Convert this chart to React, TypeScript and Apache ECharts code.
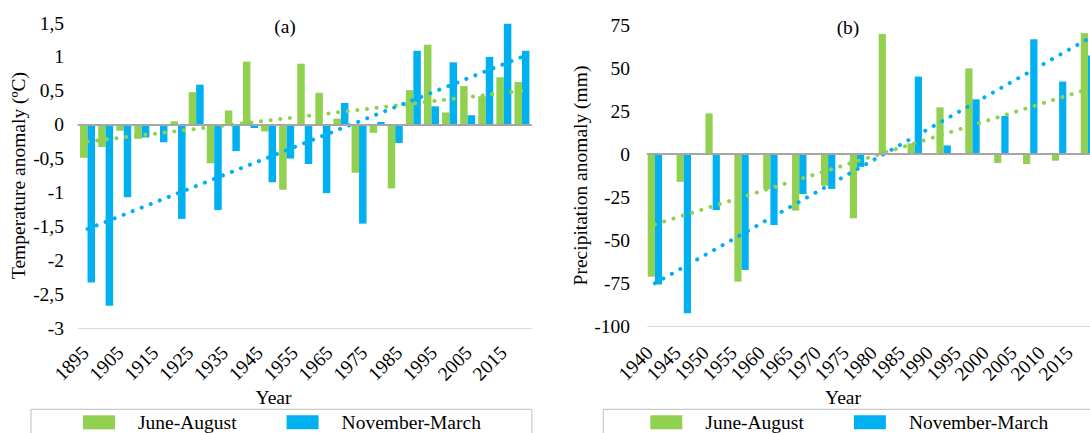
import React, { useEffect, useRef } from "react";
import * as echarts from "echarts";

const FONT = "'Liberation Serif', 'Times New Roman', Times, serif";
const FS = 19.5;
const GREEN = "#92d050";
const BLUE = "#00b0f0";
const TEXT = "#000000";

// ---------- Panel (a): temperature anomaly ----------
const tempYears = [
  "1895", "1900", "1905", "1910", "1915", "1920", "1925", "1930", "1935", "1940",
  "1945", "1950", "1955", "1960", "1965", "1970", "1975", "1980", "1985", "1990",
  "1995", "2000", "2005", "2010", "2015",
];
const tempLabelYears = [
  "1895", "1905", "1915", "1925", "1935", "1945", "1955",
  "1965", "1975", "1985", "1995", "2005", "2015",
];
const tempJuneAug = [
  -0.49, -0.33, -0.09, -0.21, -0.01, 0.05, 0.48, -0.57, 0.21, 0.93,
  -0.10, -0.96, 0.90, 0.47, 0.09, -0.71, -0.12, -0.94, 0.51, 1.18,
  0.18, 0.57, 0.42, 0.70, 0.63,
];
const tempNovMar = [
  -2.33, -2.67, -1.07, -0.19, -0.26, -1.39, 0.59, -1.26, -0.39, -0.05,
  -0.85, -0.50, -0.58, -1.01, 0.32, -1.46, 0.04, -0.27, 1.09, 0.27,
  0.92, 0.14, 1.00, 1.49, 1.09,
];
const tempTrendJuneAug = [-0.25, 0.5];
const tempTrendNovMar = [-1.54, 1.0];
const tempTicks = ["-3", "-2,5", "-2", "-1,5", "-1", "-0,5", "0", "0,5", "1", "1,5"];

// ---------- Panel (b): precipitation anomaly ----------
const precYears = [
  "1940", "1945", "1950", "1955", "1960", "1965", "1970", "1975",
  "1980", "1985", "1990", "1995", "2000", "2005", "2010", "2015",
];
const precJuneAug = [
  -71.3, -16.2, 23.6, -74.2, -20.5, -32.9, -18.4, -37.4,
  69.8, 6.2, 27.1, 49.8, -5.2, -5.8, -3.9, 70.3,
];
const precNovMar = [
  -75.8, -92.6, -32.6, -67.4, -41.3, -23.3, -20.3, -7.5,
  0, 45.0, 5.0, 31.8, 22.1, 66.7, 42.1, 57.2,
];
const precTrendJuneAug = [-40.9, 37.7];
const precTrendNovMar = [-75.2, 66.9];
const precTicks = ["-100", "-75", "-50", "-25", "0", "25", "50", "75"];

const SERIES_NAMES = ["June-August", "November-March"];

function textStyle(extra: any = {}) {
  return { fontFamily: FONT, fontSize: FS, color: TEXT, ...extra };
}

function trendStyle(color: string) {
  return {
    color,
    width: 4,
    type: [0.1, 9.6],
    cap: "round",
  };
}

function buildOption(): any {
  const lastTemp = tempYears.length - 1;
  const lastPrec = precYears.length - 1;

  const hiddenY = (gridIndex: number) => ({
    type: "value",
    gridIndex,
    min: 0,
    max: 1,
    show: false,
  });

  const bottomLine = (gridIndex: number) => ({
    type: "value",
    gridIndex,
    position: "bottom",
    min: 0,
    max: 1,
    axisLine: { show: true, onZero: false, lineStyle: { color: "#d9d9d9", width: 1 } },
    axisTick: { show: false },
    axisLabel: { show: false },
    splitLine: { show: false },
  });

  const labelAxis = (gridIndex: number, data: string[], margin: number) => ({
    type: "category",
    gridIndex,
    position: "bottom",
    data,
    boundaryGap: false,
    axisLine: { show: false },
    axisTick: { show: false },
    splitLine: { show: false },
    axisLabel: {
      interval: 0,
      rotate: 45,
      margin,
      ...textStyle(),
    },
  });

  const legend = (left: number, padding: number[], width: number) => ({
    left,
    top: 409.3,
    width,
    orient: "horizontal",
    selectedMode: false,
    itemWidth: 32,
    itemHeight: 14,
    itemGap: 50,
    padding,
    borderColor: "#bfbfbf",
    borderWidth: 1,
    borderRadius: 0,
    backgroundColor: "#ffffff",
    textStyle: { ...textStyle(), padding: [0, 0, 0, 18] },
    data: SERIES_NAMES.map((name) => ({ name, icon: "rect" })),
  });

  return {
    animation: false,
    backgroundColor: "#ffffff",
    textStyle: { fontFamily: FONT },
    grid: [
      { left: 78.5, top: 23, width: 452.5, height: 305, outerBoundsMode: "none" },
      { left: 85.5, top: 300, width: 418, height: 28, outerBoundsMode: "none" },
      { left: 647.7, top: 25, width: 454.7, height: 301, outerBoundsMode: "none" },
      { left: 649.5, top: 300, width: 420, height: 26, outerBoundsMode: "none" },
    ],
    xAxis: [
      // 0: panel (a) bars, zero line
      {
        type: "category",
        gridIndex: 0,
        data: tempYears,
        z: 5,
        axisLine: { show: true, onZero: true, lineStyle: { color: "#a6a6a6", width: 2 } },
        axisTick: { show: false },
        axisLabel: { show: false },
        splitLine: { show: false },
      },
      // 1: panel (a) bottom border
      bottomLine(0),
      // 2: panel (a) year labels
      labelAxis(1, tempLabelYears, 21.5),
      // 3: panel (b) bars (category index positions), zero line
      {
        type: "value",
        gridIndex: 2,
        min: -0.25,
        max: 15.5,
        z: 5,
        axisLine: { show: true, onZero: true, lineStyle: { color: "#a6a6a6", width: 2 } },
        axisTick: { show: false },
        axisLabel: { show: false },
        splitLine: { show: false },
      },
      // 4: panel (b) bottom border
      bottomLine(2),
      // 5: panel (b) year labels
      labelAxis(3, precYears, 23.5),
    ],
    yAxis: [
      {
        type: "value",
        gridIndex: 0,
        min: -3,
        max: 1.5,
        interval: 0.5,
        name: "Temperature anomaly (ºC)",
        nameLocation: "middle",
        nameRotate: 90,
        nameGap: 50,
        nameTextStyle: textStyle(),
        axisLine: { show: false },
        axisTick: { show: false },
        splitLine: { show: false },
        axisLabel: {
          margin: 14.5,
          formatter: (_v: number, i: number) => tempTicks[i],
          ...textStyle(),
        },
      },
      hiddenY(1),
      {
        type: "value",
        gridIndex: 2,
        min: -100,
        max: 75,
        interval: 25,
        name: "Precipitation anomaly (mm)",
        nameLocation: "middle",
        nameRotate: 90,
        nameGap: 52,
        nameTextStyle: textStyle(),
        axisLine: { show: false },
        axisTick: { show: false },
        splitLine: { show: false },
        axisLabel: {
          margin: 17.7,
          formatter: (_v: number, i: number) => precTicks[i],
          ...textStyle(),
        },
      },
      hiddenY(3),
    ],
    legend: [
      legend(31, [3, 51, 20, 52], 700),
      legend(603.3, [3, 80, 20, 47], 700),
    ],
    graphic: [
      { type: "text", x: 285, y: 26, style: { text: "(a)", align: "center", verticalAlign: "middle", fontFamily: FONT, fontSize: FS, fill: TEXT } },
      { type: "text", x: 848, y: 27, style: { text: "(b)", align: "center", verticalAlign: "middle", fontFamily: FONT, fontSize: FS, fill: TEXT } },
      { type: "text", x: 273.5, y: 397, style: { text: "Year", align: "center", verticalAlign: "middle", fontFamily: FONT, fontSize: FS, fill: TEXT } },
      { type: "text", x: 843, y: 397, style: { text: "Year", align: "center", verticalAlign: "middle", fontFamily: FONT, fontSize: FS, fill: TEXT } },
    ],
    series: [
      // Panel (a)
      {
        name: "June-August",
        type: "bar",
        xAxisIndex: 0,
        yAxisIndex: 0,
        barWidth: 7.5,
        barGap: "0%",
        itemStyle: { color: GREEN },
        data: tempJuneAug,
      },
      {
        name: "November-March",
        type: "bar",
        xAxisIndex: 0,
        yAxisIndex: 0,
        barWidth: 7.5,
        barGap: "0%",
        itemStyle: { color: BLUE },
        data: tempNovMar,
      },
      {
        name: "Trend June-August (a)",
        type: "line",
        xAxisIndex: 0,
        yAxisIndex: 0,
        symbol: "none",
        lineStyle: trendStyle(GREEN),
        data: [[0, tempTrendJuneAug[0]], [lastTemp, tempTrendJuneAug[1]]],
      },
      {
        name: "Trend November-March (a)",
        type: "line",
        xAxisIndex: 0,
        yAxisIndex: 0,
        symbol: "none",
        lineStyle: trendStyle(BLUE),
        data: [[0, tempTrendNovMar[0]], [lastTemp, tempTrendNovMar[1]]],
      },
      // Panel (b)
      {
        name: "June-August",
        type: "bar",
        xAxisIndex: 3,
        yAxisIndex: 2,
        barWidth: 7.2,
        barGap: "0%",
        itemStyle: { color: GREEN },
        data: precJuneAug.map((v, i) => [i, v]),
      },
      {
        name: "November-March",
        type: "bar",
        xAxisIndex: 3,
        yAxisIndex: 2,
        barWidth: 7.2,
        barGap: "0%",
        itemStyle: { color: BLUE },
        data: precNovMar.map((v, i) => [i, v]),
      },
      {
        name: "Trend June-August (b)",
        type: "line",
        xAxisIndex: 3,
        yAxisIndex: 2,
        symbol: "none",
        lineStyle: trendStyle(GREEN),
        data: [[0, precTrendJuneAug[0]], [lastPrec, precTrendJuneAug[1]]],
      },
      {
        name: "Trend November-March (b)",
        type: "line",
        xAxisIndex: 3,
        yAxisIndex: 2,
        symbol: "none",
        lineStyle: trendStyle(BLUE),
        data: [[0, precTrendNovMar[0]], [lastPrec, precTrendNovMar[1]]],
      },
    ],
  };
}

export default function App() {
  const ref = useRef<HTMLDivElement>(null);

  useEffect(() => {
    if (!ref.current) return;
    const chart = echarts.init(ref.current, undefined, { renderer: "svg" });
    chart.setOption(buildOption());
    return () => {
      chart.dispose();
    };
  }, []);

  return (
    <div
      ref={ref}
      style={{
        position: "absolute",
        left: 0,
        top: 0,
        width: 1090,
        height: 433,
        overflow: "hidden",
        background: "#ffffff",
      }}
    />
  );
}
